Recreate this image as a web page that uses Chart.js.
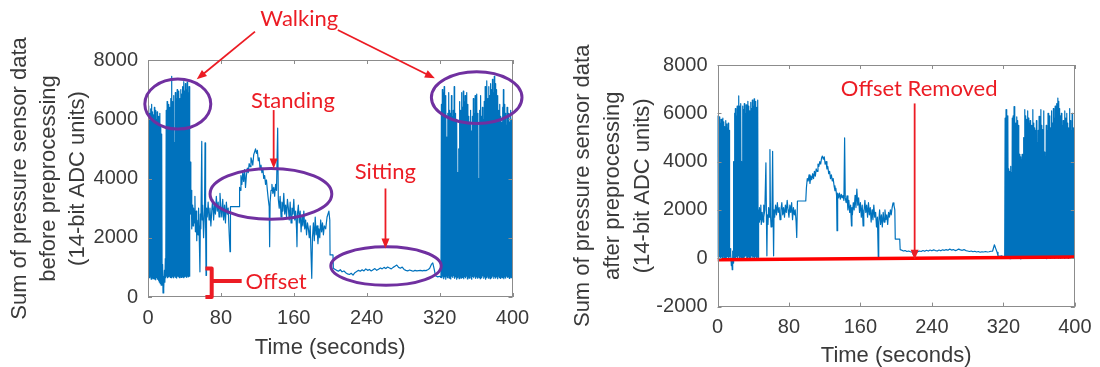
<!DOCTYPE html>
<html>
<head>
<meta charset="utf-8">
<script src="https://cdn.jsdelivr.net/npm/chart.js@4"></script>
<style>
  html, body { margin: 0; padding: 0; background: #fff; }
  #wrap { position: relative; width: 1100px; height: 367px; overflow: hidden; }
  canvas { position: absolute; top: 0; }
  #before { left: 0; }
  #after { left: 550px; }
</style>
</head>
<body>
<div id="wrap">
  <canvas id="before" width="550" height="367"></canvas>
  <canvas id="after" width="550" height="367"></canvas>
</div>
<script>
// ---- data (time in seconds, sum in ADC units) ----
const xTicks = [0, 80, 160, 240, 320, 400];
const yTicksBefore = [0, 2000, 4000, 6000, 8000];
const yTicksAfter = [-2000, 0, 2000, 4000, 6000, 8000];

// first walking bout, one peak per second (t = 0..45) and a trough half a second later
const beforeWalk1Peaks = [6100, 6450, 6200, 6350, 6500, 6250, 6150, 6400, 6300, 6000, 6250, 6100, 5900, 6200, 5800,
  5500, 1100, 700, 900, 1300,
  6300, 6600, 6200, 6500, 6400, 6700, 7450, 6600, 6800, 5200, 6900, 6700, 7000, 6800, 6950, 6700, 7000, 6850, 7100, 7270, 6950, 7200, 7000, 7250, 6900, 7100];
const beforeWalk1Lows = [700, 650, 700, 600, 650, 620, 680, 600, 580, 650, 600, 550, 500, 450, 400, 400, 135, 300, 500, 650,
  700, 650, 680, 700, 660, 650, 700, 680, 650, 700, 660, 640, 700, 680, 650, 700, 660, 680, 700, 650, 680, 700, 660, 700, 680, 700];

// standing / sitting part, [time, value]
const beforeMid = [
  [46, 3300], [46.5, 4550], [47, 2800], [47.5, 3600], [48, 2300], [49, 3100], [49.5, 2400], [50, 3000],
  [51, 2500], [51.5, 3400], [52, 2200], [53, 2900], [53.5, 1900], [54, 2600], [55, 2100], [55.5, 3000],
  [56, 2400], [57, 850], [57.5, 2800], [58, 2300], [59, 5250], [59.5, 2600], [60, 3100], [61, 2000],
  [62, 2900], [62.6, 5200], [63.2, 2500], [63.7, 730], [64.2, 3000], [65, 2700], [66, 3200], [67, 2600],
  [68, 3000], [69, 2400], [70, 2900], [71, 3300], [72, 2600], [73, 3100], [74, 2800], [75, 3400],
  [76, 2900], [77, 3200], [78, 2700], [79, 3500], [80, 3000], [81, 2700], [82, 3300], [83, 2600],
  [84, 3100], [85, 2500], [86, 3200], [87, 2800], [88, 3000], [89, 2200], [90, 1530], [90.5, 3050],
  [100, 3050], [100.5, 3700], [101, 3600], [102, 4100], [103, 3800], [104, 4200], [105, 3900], [106, 4300],
  [107, 3700], [108, 4100], [109, 4350], [110, 4200], [111, 4500], [112, 4400], [113, 4700], [114, 4600],
  [115, 4450], [116, 4800], [117, 4900], [118, 5000], [119, 4850], [120, 4950], [121, 4600], [122, 4700],
  [123, 4300], [124, 4450], [125, 4200], [126, 4350], [127, 4000], [128, 4100], [129, 3800], [130, 3950],
  [131, 3600], [132, 3300], [133, 3050], [133.5, 1700], [134, 3200], [135, 3600], [136, 3800], [137, 3500],
  [138, 3700], [139, 3400], [140, 3800], [141, 3600], [142.3, 5700], [143, 3300], [144, 3000], [145, 3400],
  [146, 2700], [147, 3200], [148, 2900], [149, 3500], [150, 2800], [151, 3100], [152, 2700], [153, 3300],
  [154, 3000], [155, 2600], [156, 3200], [157, 2500], [158, 3000], [159, 2800], [160, 3300], [161, 2600],
  [162, 2900], [163, 2300], [163.5, 1700], [164, 2800], [165, 3100], [166, 2500], [167, 2900], [168, 2200],
  [169, 2700], [170, 2400], [171, 2900], [172, 2300], [173, 2600], [174, 2100], [175, 2500], [176, 2300],
  [177, 2000], [178, 2400], [179.7, 630], [180.5, 2000], [181.5, 2500], [182.5, 1900], [183.5, 2700], [184.5, 2100],
  [185.5, 2400], [186.5, 1800], [187.5, 2300], [188.5, 2000], [189.5, 2600], [190.5, 2200], [191.5, 2500], [192.5, 2100],
  [193.5, 2400], [195, 2300], [196.5, 2700], [198.5, 2900], [199.5, 2600], [199.8, 1420], [203, 1420], [203.4, 970],
  [205, 940], [207, 900], [209, 870], [211, 920], [213, 850], [215, 880], [217, 820], [219, 780],
  [221, 760], [223, 800], [225, 740], [227, 820], [229, 860], [231, 900], [233, 870], [235, 920],
  [237, 880], [239, 950], [241, 900], [243, 930], [245, 880], [247, 920], [249, 960], [251, 900],
  [253, 940], [255, 980], [257, 950], [259, 1000], [261, 960], [263, 1010], [265, 980], [267, 950],
  [269, 1000], [271, 1040], [273, 1080], [275, 1000], [277, 970], [279, 1010], [281, 930], [283, 900],
  [285, 880], [287, 910], [289, 890], [291, 870], [293, 900], [295, 880], [297, 890], [299, 900],
  [301, 880], [303, 900], [305, 890], [307, 920], [309, 960], [311, 1100], [312.5, 1150], [314, 950],
  [315.5, 720], [318, 680], [320, 700], [321.5, 660]
];

// second walking bout, t = 322..399
const beforeWalk2Peaks = [6500, 7000, 6900, 7100, 6800, 6600, 5400, 6200, 6900, 6300,
  6200, 6800, 6100, 6300, 7100, 6200, 6000, 5800, 4200, 5000,
  6600, 6300, 6900, 6400, 6950, 6600, 6800, 6300, 6900, 6500,
  6100, 5900, 6300, 5600, 6100, 6700, 6200, 6800, 6400, 6850,
  6200, 4000, 6300, 6800, 6100, 6400, 6000, 6600, 7100, 6900,
  7300, 6700, 7100, 6800, 7200, 7000, 7350, 6900, 7450, 7200,
  7000, 6600, 6800, 6300, 6500, 6100, 5900, 6400, 7000, 6500,
  6200, 5800, 6400, 6000, 6200, 5900, 6300, 6000];
const beforeWalk2Lows = [650, 700, 620, 680, 600, 700, 650, 720, 640, 690,
  610, 700, 660, 720, 630, 680, 600, 650, 700, 620,
  680, 640, 700, 660, 620, 690, 650, 700, 610, 680,
  640, 720, 660, 600, 690, 650, 700, 630, 680, 640,
  700, 660, 620, 690, 650, 710, 630, 680, 600, 650,
  700, 640, 690, 620, 680, 650, 700, 630, 690, 640,
  680, 620, 700, 660, 630, 690, 650, 700, 620, 680,
  640, 700, 660, 690, 630, 680, 650, 700];

const afterWalk1Peaks = [5900, 5700, 5850, 5600, 5750, 5500, 5800, 5650, 5450, 5700, 5550, 5400, 5600, 5300,
  400, 200, -100, 300, 4000,
  6000, 6200, 5900, 6300, 6100, 6720, 6300, 6400, 4000, 6300, 6150, 6400, 6000, 6350, 6200, 6500, 6300, 6100, 6450, 6200, 6550, 6300, 6600, 6400, 6500, 6250, 6550];
const afterWalk1Lows = [50, 0, 80, -30, 60, 20, 100, 0, 50, -20, 40, 80, 0, 60, 100, -300, -470, -200, 0, 60,
  0, 80, 20, 100, 0, 60, 40, 0, 80, 20, 60, 100, 0, 40, 80, 20, 60, 0, 100, 40, 60, 0, 80, 20, 60, 40];

const afterMid = [
  [46, 2000], [46.5, 1500], [47, 2100], [48, 1600], [48.5, 2200], [49, 1400], [50, 1900], [51, 1500],
  [51.5, 2200], [52, 1700], [53, 2000], [54.2, 3950], [54.8, 1600], [55.3, 100], [55.8, 1800], [56.5, 1400],
  [57.2, 2100], [58, 1700], [58.7, 4500], [59.3, 1800], [60, 1300], [61, 2000], [61.7, 4430], [62.3, 1700],
  [62.8, 100], [63.3, 2000], [64, 1700], [65, 2200], [66, 1800], [67, 2300], [68, 1900], [69, 2100],
  [70, 1600], [71, 2000], [72, 2300], [73, 1800], [74, 2100], [75, 1700], [76, 2200], [77, 1900],
  [78, 2400], [79, 2000], [80, 1700], [81, 2200], [82, 1900], [83, 2300], [84, 1600], [85, 2100],
  [86, 1800], [87, 2000], [88, 1500], [88.7, 860], [89.5, 2370], [98.8, 2370], [99.5, 2900], [100.5, 3300],
  [101.5, 3200], [102.5, 3450], [103.5, 3100], [104.5, 3400], [105.5, 3250], [106.5, 3500], [107.5, 3300], [108.5, 3600],
  [109.5, 3400], [110.5, 3700], [111.5, 3600], [112.5, 3900], [113.5, 3800], [114.5, 4000], [115.5, 3900], [116.5, 4150],
  [117.4, 4230], [118.5, 4100], [119.5, 4200], [120.5, 3900], [121.5, 4000], [122.5, 3700], [123.5, 3800], [124.5, 3500],
  [125.5, 3600], [126.5, 3300], [127.5, 3450], [128.5, 3200], [129.5, 3300], [130.5, 3000], [131.5, 2800], [132.5, 2900],
  [133.3, 2600], [133.8, 1140], [134.5, 2700], [135.5, 2500], [136.5, 2700], [137.5, 2450], [138.5, 2650], [139.5, 2500],
  [140.5, 2600], [141.5, 2400], [142.3, 4980], [143, 2500], [144, 2300], [145, 2580], [146, 2000], [147, 2400],
  [148, 1900], [149, 2200], [150, 1340], [150.5, 2100], [151, 1800], [152, 2300], [153, 2000], [154, 2600],
  [155, 2100], [156, 2860], [157, 2200], [158, 2500], [159, 1900], [160, 2300], [161, 1700], [162, 2200],
  [163, 1340], [163.5, 2000], [164, 1800], [165, 2400], [166, 1900], [167, 2200], [168, 1700], [169, 2300],
  [170, 1800], [171, 2100], [172, 1500], [173, 2000], [174, 1600], [175, 2200], [176, 1700], [177, 1900],
  [178, 1300], [179, 1700], [180, 40], [180.5, 1500], [181.5, 2000], [182.5, 1400], [183.5, 1800], [184.5, 1300],
  [185.5, 1900], [186.5, 1500], [187.5, 2000], [188.5, 1600], [189.5, 1800], [190.5, 1400], [191.5, 1900], [192.5, 1700],
  [193.5, 2000], [194.5, 1800], [195.5, 2100], [196.5, 2290], [197.5, 2200], [198.5, 2000], [199, 795], [204, 795],
  [204.5, 355], [206, 340], [208, 300], [210, 320], [212, 280], [214, 300], [216, 270], [218, 250],
  [219.5, 135], [221, 180], [223.5, 260], [226, 300], [228, 280], [230, 320], [232, 290], [234, 330],
  [236, 300], [238, 340], [240, 310], [242, 350], [244, 320], [246, 300], [248, 340], [250, 310],
  [252, 350], [254, 330], [256, 360], [258, 330], [260, 380], [262, 340], [264, 360], [266, 320],
  [268, 340], [270, 380], [272, 350], [274, 330], [276, 360], [278, 320], [280, 300], [282, 280],
  [284, 300], [286, 270], [288, 290], [290, 260], [292, 280], [294, 250], [296, 270], [298, 260],
  [300, 280], [302, 260], [304, 270], [306, 290], [308, 300], [310, 560], [311.5, 400], [313, 250],
  [314, 100], [316, 80], [318, 100], [320, 60], [321.5, 90]
];

const afterWalk2Peaks = [5800, 6150, 6000, 5900, 3700, 3600, 3800, 3550, 5800, 5900,
  6280, 5700, 5600, 5850, 5700, 5500, 4300, 4200, 4100, 4300,
  4200, 5000, 6150, 5900, 5750, 6100, 5800, 5600, 5700, 5500,
  5350, 6150, 5600, 5400, 5300, 5700, 4800, 5300, 5870, 5600,
  6150, 5500, 5330, 6100, 4400, 4200, 5500, 5300, 6000, 5700,
  5900, 5400, 6100, 5600, 6200, 5800, 6300, 6000, 6400, 6630,
  6500, 6200, 5900, 6000, 5500, 5700, 5200, 6100, 5800, 6000,
  5600, 5400, 6200, 5700, 5300, 6000, 5000, 5400];
const afterWalk2Lows = [40, 0, 80, 20, 60, -20, 100, 30, 0, 70,
  20, 90, 0, 50, 110, 10, 60, -30, 80, 30,
  0, 90, 40, 70, 10, 100, 20, 60, 0, 80,
  40, -10, 90, 30, 60, 0, 100, 20, 70, 40,
  0, 80, 30, 90, 10, 60, -20, 70, 40, 100,
  0, 50, 80, 20, 60, 0, 90, 30, 70, 10,
  80, 40, 0, 100, 20, 60, -10, 90, 30, 70,
  0, 80, 40, 60, 10, 90, 30, 50];

// red "offset removed" baseline, value at t = 0 and t = 400
const baselineTimes = [0, 400];
const baselineValues = [-60, 50];

// ---- building the series ----
function walk(start, peaks, lows) {
  const pts = [];
  peaks.forEach((p, i) => {
    pts.push({ x: start + i, y: p });
    pts.push({ x: start + i + 0.5, y: lows[i] });
  });
  return pts;
}
const pairs = arr => arr.map(([x, y]) => ({ x, y }));

const beforeSeries = [].concat(walk(0, beforeWalk1Peaks, beforeWalk1Lows), pairs(beforeMid), walk(322, beforeWalk2Peaks, beforeWalk2Lows));
const afterSeries = [].concat(walk(0, afterWalk1Peaks, afterWalk1Lows), pairs(afterMid), walk(322, afterWalk2Peaks, afterWalk2Lows));
const baseline = baselineTimes.map((t, i) => ({ x: t, y: baselineValues[i] }));

// ---- look ----
const BLUE = '#0072BD';
const RED = 'rgb(236,28,36)';
const PURPLE = '#7030A0';
const TEXT = '#3a3a3a';
const FRAME = '#8c8c8c';
const SANS = "'Liberation Sans', Arial, sans-serif";
const NOTE_FONT = "22px Lato, 'Open Sans', sans-serif";

// matlab-like box with inward ticks
const boxPlugin = {
  id: 'box',
  afterDatasetsDraw(chart) {
    const { ctx, chartArea: a, scales: { x, y } } = chart;
    ctx.save();
    ctx.strokeStyle = FRAME;
    ctx.lineWidth = 1;
    ctx.strokeRect(Math.round(a.left) + 0.5, Math.round(a.top) + 0.5, Math.round(a.right - a.left) - 1, Math.round(a.bottom - a.top) - 1);
    ctx.beginPath();
    x.ticks.forEach(t => {
      const px = Math.round(x.getPixelForValue(t.value)) + 0.5;
      ctx.moveTo(px, a.bottom); ctx.lineTo(px, a.bottom - 4);
      ctx.moveTo(px, a.top); ctx.lineTo(px, a.top + 4);
    });
    y.ticks.forEach(t => {
      const py = Math.round(y.getPixelForValue(t.value)) + 0.5;
      ctx.moveTo(a.left, py); ctx.lineTo(a.left + 4, py);
      ctx.moveTo(a.right, py); ctx.lineTo(a.right - 4, py);
    });
    ctx.stroke();
    ctx.restore();
  }
};

function arrow(ctx, x1, y1, x2, y2) {
  const ang = Math.atan2(y2 - y1, x2 - x1), len = 10, w = 4;
  const c = Math.cos(ang), s = Math.sin(ang);
  ctx.beginPath();
  ctx.moveTo(x1, y1);
  ctx.lineTo(x2 - len * 0.8 * c, y2 - len * 0.8 * s);
  ctx.stroke();
  ctx.beginPath();
  ctx.moveTo(x2, y2);
  ctx.lineTo(x2 - len * c + w * s, y2 - len * s - w * c);
  ctx.lineTo(x2 - len * c - w * s, y2 - len * s + w * c);
  ctx.closePath();
  ctx.fill();
}

// annotations, placed in data units
const notesPlugin = {
  id: 'notes',
  afterDraw(chart, args, opts) {
    const { ctx, scales: { x, y } } = chart;
    const X = t => x.getPixelForValue(t);
    const Y = v => y.getPixelForValue(v);
    ctx.save();
    ctx.strokeStyle = PURPLE;
    ctx.lineWidth = 3;
    (opts.ellipses || []).forEach(e => {
      ctx.beginPath();
      ctx.ellipse(X(e.t), Y(e.v), Math.abs(X(e.t + e.dt) - X(e.t)), Math.abs(Y(e.v + e.dv) - Y(e.v)), 0, 0, Math.PI * 2);
      ctx.stroke();
    });
    ctx.strokeStyle = RED;
    ctx.fillStyle = RED;
    ctx.lineWidth = 1.8;
    (opts.arrows || []).forEach(a => arrow(ctx, X(a[0]), Y(a[1]), X(a[2]), Y(a[3])));
    if (opts.bracket) {
      const b = opts.bracket;
      ctx.lineWidth = 4;
      ctx.lineJoin = 'round';
      ctx.beginPath();
      ctx.moveTo(X(b.hook), Y(b.top));
      ctx.lineTo(X(b.t), Y(b.top));
      ctx.lineTo(X(b.t), Y(b.bottom));
      ctx.lineTo(X(b.hook), Y(b.bottom));
      ctx.moveTo(X(b.t), Y(b.mid));
      ctx.lineTo(X(b.end), Y(b.mid));
      ctx.stroke();
    }
    ctx.font = NOTE_FONT;
    ctx.textBaseline = 'middle';
    (opts.texts || []).forEach(tx => {
      ctx.textAlign = tx.align || 'center';
      ctx.fillText(tx.text, X(tx.t), Y(tx.v));
    });
    ctx.restore();
  }
};

function makeChart(id, series, extra, yMin, yTicks, yTitle, geom, notes) {
  const datasets = [];
  if (extra) {
    datasets.push({ data: extra, borderColor: 'rgb(255,0,0)', borderWidth: 3.5, pointRadius: 0, tension: 0 });
  }
  datasets.push({ data: series, borderColor: BLUE, borderWidth: 1.2, pointRadius: 0, tension: 0, borderJoinStyle: 'round' });
  return new Chart(document.getElementById(id), {
    type: 'line',
    data: { datasets },
    options: {
      responsive: false,
      animation: false,
      devicePixelRatio: 1,
      layout: { padding: { left: 0, right: geom.right, top: geom.top, bottom: 0 } },
      plugins: { legend: { display: false }, tooltip: { enabled: false }, notes },
      scales: {
        x: {
          type: 'linear', min: 0, max: 400,
          afterBuildTicks: s => { s.ticks = xTicks.map(v => ({ value: v })); },
          afterFit: s => { s.height = geom.xh; },
          ticks: { color: TEXT, padding: geom.xpad, font: { family: SANS, size: 20 }, callback: v => String(v) },
          grid: { display: false, drawTicks: false },
          border: { display: false },
          title: { display: true, text: 'Time (seconds)', color: TEXT,
            font: { family: SANS, size: 22, lineHeight: 1 }, padding: { top: 0, bottom: geom.xtb } }
        },
        y: {
          type: 'linear', min: yMin, max: 8000,
          afterBuildTicks: s => { s.ticks = yTicks.map(v => ({ value: v })); },
          afterFit: s => { s.width = geom.yw; },
          ticks: { color: TEXT, padding: 10, font: { family: SANS, size: 20 }, callback: v => String(v) },
          grid: { display: false, drawTicks: false },
          border: { display: false },
          title: { display: true, text: yTitle, color: TEXT,
            font: { family: SANS, size: 22, lineHeight: geom.ylh }, padding: { top: geom.ytp, bottom: 0 } }
        }
      }
    },
    plugins: [boxPlugin, notesPlugin]
  });
}

makeChart('before', beforeSeries, null, 0, yTicksBefore,
  ['Sum of pressure sensor data', 'before preprocessing', '(14-bit ADC units)'],
  { right: 37.5, top: 60, xh: 70, xpad: 9, xtb: 8, yw: 148, ylh: 1.32, ytp: 5.5 },
  {
    ellipses: [
      { t: 32.7, v: 6512, dt: 36.2, dv: 845 },
      { t: 134.9, v: 3481, dt: 66.8, dv: 856 },
      { t: 261.2, v: 1044, dt: 60.6, dv: 649 },
      { t: 360.7, v: 6732, dt: 49.7, dv: 872 }
    ],
    arrows: [
      [117.4, 8956, 53.5, 7347],
      [208.3, 9013, 314.8, 7381],
      [137.9, 6310, 137.9, 4339],
      [260.6, 3663, 260.6, 1636]
    ],
    bracket: { t: 69.9, hook: 63, top: 960, bottom: 0, mid: 540, end: 102.8 },
    texts: [
      { text: 'Walking', t: 166, v: 9380 },
      { text: 'Standing', t: 159, v: 6614 },
      { text: 'Sitting', t: 260.5, v: 4224 },
      { text: 'Offset', t: 107, v: 507, align: 'left' }
    ]
  });

makeChart('after', afterSeries, baseline, -2000, yTicksAfter,
  ['Sum of pressure sensor data', 'after preprocessing', '(14-bit ADC units)'],
  { right: 23, top: 65, xh: 60.4, xpad: 8.5, xtb: 0, yw: 167.5, ylh: 1.36, ytp: 17.8 },
  {
    arrows: [[220.7, 6409, 220.7, -60]],
    texts: [{ text: 'Offset Removed', t: 225.8, v: 7005 }]
  });
</script>
</body>
</html>
